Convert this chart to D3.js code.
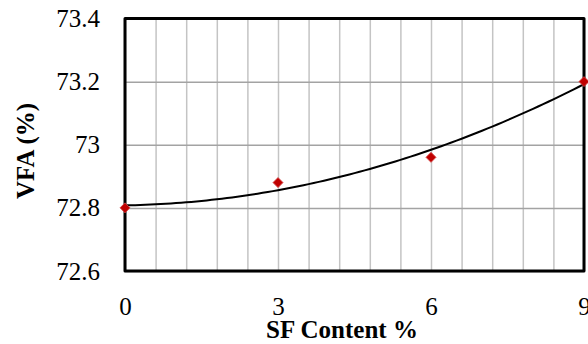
<!DOCTYPE html>
<html>
<head>
<meta charset="utf-8">
<script src="https://cdn.jsdelivr.net/npm/d3@7"></script>
<style>
  html, body { margin: 0; padding: 0; background: #fff; }
  svg { display: block; }
  svg text { font-family: "Liberation Serif", serif; }
</style>
</head>
<body>
<svg id="chart" width="588" height="344"></svg>
<script>
// data
var sfContent = [0, 3, 6, 9];
var vfa = [72.8, 72.88, 72.96, 73.2];

// axis ticks
var xTicks = [0, 3, 6, 9];
var yTicks = [72.6, 72.8, 73, 73.2, 73.4];
var xGrid = d3.range(0, 9.0001, 0.6);

//plot area edges (note: "top" is taken by window.top, so use other names)
var plotLeft = 125, plotRight = 584, plotTop = 18.5, plotBottom = 271;
var serif = "'Liberation Serif', serif";

var svg = d3.select("#chart");

var x = d3.scaleLinear().domain([0, 9]).range([plotLeft, plotRight]);
var y = d3.scaleLinear().domain([72.6, 73.4]).range([plotBottom, plotTop]);

//vertical grid (light)
svg.append("g")
  .attr("transform", "translate(0," + plotBottom + ")")
  .call(d3.axisBottom(x).tickValues(xGrid).tickSize(-(plotBottom - plotTop)).tickFormat(""))
  .call(function (g) {
    g.select(".domain").remove();
    g.selectAll("line").attr("stroke", "#c4c4c4").attr("stroke-width", 1.5);
  });

//horizontal grid (darker)
svg.append("g")
  .attr("transform", "translate(" + plotLeft + ",0)")
  .call(d3.axisLeft(y).tickValues(yTicks).tickSize(-(plotRight - plotLeft)).tickFormat(""))
  .call(function (g) {
    g.select(".domain").remove();
    g.selectAll("line").attr("stroke", "#a3a3a3").attr("stroke-width", 1.5);
  });

//frame
svg.append("rect")
  .attr("x", plotLeft).attr("y", plotTop)
  .attr("width", plotRight - plotLeft).attr("height", plotBottom - plotTop)
  .attr("fill", "none")
  .attr("stroke", "#000")
  .attr("stroke-width", 3)
  .attr("stroke-linejoin", "round");

//tick labels
var yAxis = svg.append("g")
  .attr("transform", "translate(" + (plotLeft - 25) + ",0)")
  .call(d3.axisLeft(y).tickValues(yTicks).tickSize(0).tickPadding(0).tickFormat(d3.format("")))
  .attr("font-family", serif)
  .attr("font-size", 25);
yAxis.select(".domain").remove();
yAxis.selectAll("text")
  .style("font-family", serif)
  .attr("fill", "#000");

var xAxis = svg.append("g")
  .attr("transform", "translate(0," + plotBottom + ")")
  .call(d3.axisBottom(x).tickValues(xTicks).tickSize(0).tickPadding(0).tickFormat(d3.format("")))
  .attr("font-family", serif)
  .attr("font-size", 25);
xAxis.select(".domain").remove();
xAxis.selectAll("text")
  .attr("y", 44)
  .attr("dy", null)
  .style("font-family", serif)
  .attr("fill", "#000");

//polynomial (order 2) trendline fitted to the points, like the spreadsheet does
function quadFit(xs, ys) {
  var s = [0, 0, 0, 0, 0], t = [0, 0, 0];
  for (var i = 0; i < xs.length; i++) {
    for (var k = 0; k < 5; k++) s[k] += Math.pow(xs[i], k);
    for (k = 0; k < 3; k++) t[k] += ys[i] * Math.pow(xs[i], k);
  }
  var m = [[s[0], s[1], s[2], t[0]], [s[1], s[2], s[3], t[1]], [s[2], s[3], s[4], t[2]]];
  for (var c = 0; c < 3; c++) {
    for (var r = c + 1; r < 3; r++) {
      var f = m[r][c] / m[c][c];
      for (k = c; k < 4; k++) m[r][k] -= f * m[c][k];
    }
  }
  var coef = [0, 0, 0];
  for (r = 2; r >= 0; r--) {
    var v = m[r][3];
    for (k = r + 1; k < 3; k++) v -= m[r][k] * coef[k];
    coef[r] = v / m[r][r];
  }
  return coef;
}
var coef = quadFit(sfContent, vfa);
var trend = d3.range(0, 9.0001, 0.1).map(function (d) {
  return [d, coef[0] + coef[1] * d + coef[2] * d * d];
});

svg.append("path")
  .datum(trend)
  .attr("fill", "none")
  .attr("stroke", "#000")
  .attr("stroke-width", 2)
  .attr("d", d3.line()
    .x(function (d) { return x(d[0]); })
    .y(function (d) { return y(d[1]); }));

//markers
svg.selectAll(".pt")
  .data(sfContent)
  .enter().append("path")
  .attr("class", "pt")
  .attr("transform", function (d, i) { return "translate(" + x(d) + "," + y(vfa[i]) + ") rotate(45)"; })
  .attr("d", d3.symbol().type(d3.symbolSquare).size(50))
  .attr("fill", "#c00000")
  .attr("stroke", "#d64545")
  .attr("stroke-width", 0.8);

//axis titles
svg.append("text")
  .attr("x", 342)
  .attr("y", 338)
  .attr("text-anchor", "middle")
  .style("font-family", serif)
  .attr("font-weight", "bold")
  .attr("font-size", 25)
  .text("SF Content %");

svg.append("text")
  .attr("transform", "translate(34,151) rotate(-90)")
  .attr("text-anchor", "middle")
  .style("font-family", serif)
  .attr("font-weight", "bold")
  .attr("font-size", 25)
  .text("VFA (%)");
</script>
</body>
</html>
